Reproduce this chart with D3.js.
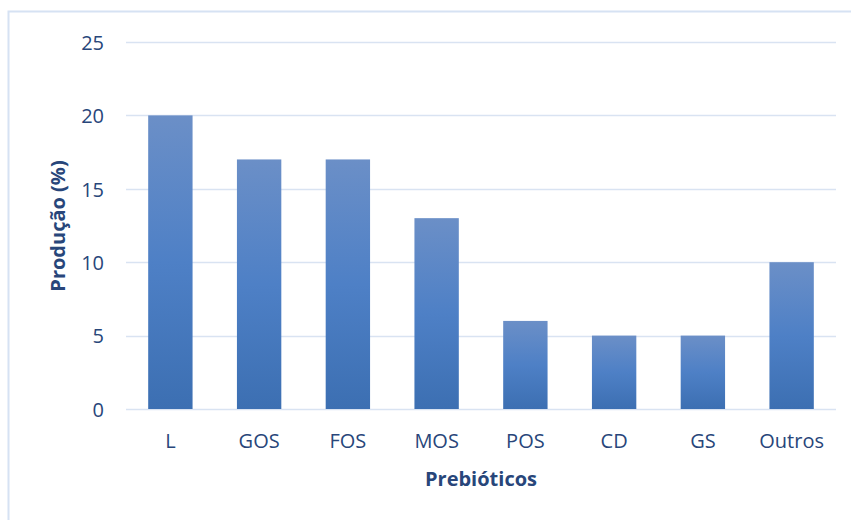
<!DOCTYPE html>
<html><head><meta charset="utf-8">
<script src="https://cdn.jsdelivr.net/npm/d3@7"></script>
<style>body{margin:0;background:#fff;}svg{display:block;}</style>
</head><body>
<svg id="c" width="851" height="520"></svg>
<script>
const categories = ["L","GOS","FOS","MOS","POS","CD","GS","Outros"];
const values = [20,17,17,13,6,5,5,10];
const yTicks = [0,5,10,15,20,25];
const yTitle = "Produção (%)";
const xTitle = "Prebióticos";

const svg = d3.select("#c");
const textColor = "#28467a";
const font = "'Open Sans', 'Noto Sans', sans-serif";

// outer border
svg.append("rect").attr("x",8.5).attr("y",11.5).attr("width",860).attr("height",530)
  .attr("fill","none").attr("stroke","#d6e2f3").attr("stroke-width",2);

const x = d3.scaleBand().domain(categories).range([126,836]).paddingInner(0.5).paddingOuter(0.25);
const y = d3.scaleLinear().domain([0,25]).range([409,42]);

const defs = svg.append("defs");
const g = defs.append("linearGradient").attr("id","bg").attr("x1",0).attr("y1",0).attr("x2",0).attr("y2",1);
g.append("stop").attr("offset","0%").attr("stop-color","#6b8fc7");
g.append("stop").attr("offset","50%").attr("stop-color","#4e80c6");
g.append("stop").attr("offset","100%").attr("stop-color","#3c6fb2");

// gridlines
svg.append("g").selectAll("line").data(yTicks).join("line")
  .attr("x1",126).attr("x2",836).attr("y1",d=>Math.round(y(d))+0.5).attr("y2",d=>Math.round(y(d))+0.5)
  .attr("stroke","#d9e3f2").attr("stroke-width",1.5);

// y axis labels
const yAxis = d3.axisLeft(y).tickValues(yTicks).tickSize(0).tickPadding(0);
const ya = svg.append("g").attr("transform","translate(104,0)").call(yAxis);
ya.select(".domain").remove();
ya.selectAll("text").attr("fill",textColor).style("font-family",font).style("font-size","20px").attr("dy","0.36em");

// bars
svg.append("g").selectAll("rect").data(values).join("rect")
  .attr("x",(d,i)=>x(categories[i])).attr("width",x.bandwidth())
  .attr("y",d=>y(d)).attr("height",d=>y(0)-y(d))
  .attr("fill","url(#bg)");

// x axis labels
const xAxis = d3.axisBottom(x).tickSize(0).tickPadding(0);
const xa = svg.append("g").attr("transform","translate(0,441)").call(xAxis);
xa.select(".domain").remove();
xa.selectAll("text").attr("fill",textColor).style("font-family",font).style("font-size","20px").attr("dy","0.35em");

// titles
svg.append("text").attr("x",481).attr("y",486).attr("text-anchor","middle")
  .attr("fill",textColor).style("font-family",font).style("font-size","20px").style("font-weight","bold").text(xTitle);
svg.append("text").attr("transform","translate(65,226) rotate(-90)").attr("text-anchor","middle")
  .attr("fill",textColor).style("font-family",font).style("font-size","20px").style("font-weight","bold").text(yTitle);
</script>
</body></html>
